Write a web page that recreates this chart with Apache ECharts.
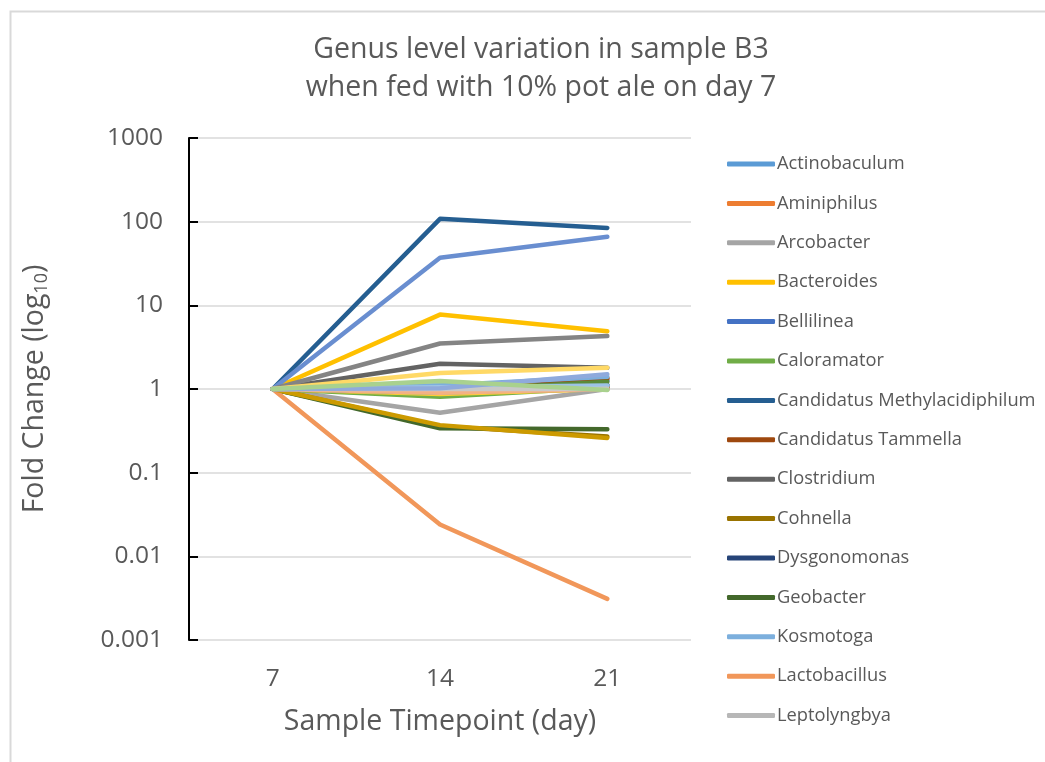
<!DOCTYPE html>
<html>
<head>
<meta charset="utf-8">
<script src="https://cdn.jsdelivr.net/npm/echarts@6/dist/echarts.min.js"></script>
<style>html,body{margin:0;padding:0;background:#fff;}#c{width:1045px;height:762px;}</style>
</head>
<body>
<div id="c"></div>
<script>
const categories = ['7', '14', '21'];
const yTickLabels = ['0.001', '0.01', '0.1', '1', '10', '100', '1000'];
const legendNames = ['Actinobaculum','Aminiphilus','Arcobacter','Bacteroides','Bellilinea','Caloramator',
  'Candidatus Methylacidiphilum','Candidatus Tammella','Clostridium','Cohnella','Dysgonomonas','Geobacter',
  'Kosmotoga','Lactobacillus','Leptolyngbya'];
// series beyond the visible (truncated) legend
const hiddenNames = ['Genus 16','Genus 17','Genus 18','Genus 19','Genus 20','Genus 21','Genus 22',
  'Genus 23','Genus 24','Genus 25','Genus 26','Genus 27','Genus 28','Genus 29','Genus 30'];
const seriesValues = [
  [1, 1.10, 1.30],   // Actinobaculum
  [1, 0.92, 1.34],   // Aminiphilus
  [1, 0.52, 1.00],   // Arcobacter
  [1, 7.75, 4.90],   // Bacteroides
  [1, 1.05, 1.25],   // Bellilinea
  [1, 0.81, 1.04],   // Caloramator
  [1, 108, 84],      // Candidatus Methylacidiphilum
  [1, 0.90, 1.35],   // Candidatus Tammella
  [1, 2.00, 1.80],   // Clostridium
  [1, 0.36, 0.27],   // Cohnella
  [1, 1.00, 1.12],   // Dysgonomonas
  [1, 0.34, 0.33],   // Geobacter
  [1, 1.10, 1.40],   // Kosmotoga
  [1, 0.024, 0.0031],// Lactobacillus
  [1, 1.00, 1.02],   // Leptolyngbya
  [1, 0.87, 1.00],
  [1, 37, 66],
  [1, 0.90, 1.05],
  [1, 1.02, 1.10],
  [1, 0.95, 1.05],
  [1, 3.50, 4.30],
  [1, 0.37, 0.26],
  [1, 0.93, 1.00],
  [1, 0.95, 1.22],
  [1, 1.05, 1.10],
  [1, 0.90, 1.00],
  [1, 1.00, 1.00],
  [1, 1.55, 1.80],
  [1, 1.02, 1.50],
  [1, 1.25, 0.97]
];
const palette = ['#5B9BD5','#ED7D31','#A5A5A5','#FFC000','#4472C4','#70AD47',
  '#255E91','#9E480E','#636363','#997300','#264478','#43682B',
  '#7CAFDD','#F1975A','#B7B7B7','#FFCD33','#698ED0','#8CC168',
  '#327DC2','#D26012','#848484','#CC9A00','#3A5FA0','#5A8A39',
  '#9DC3E6','#F4B183','#C9C9C9','#FFD966','#8FAADC','#A9D18E'];

const allNames = legendNames.concat(hiddenNames);
const FONT = 'Open Sans';
const TXT = '#595959';

const series = seriesValues.map((vals, i) => ({
  name: allNames[i],
  type: 'line',
  data: vals,
  symbol: 'none',
  smooth: false,
  lineStyle: { width: 4.5, color: palette[i], cap: 'round', join: 'round' },
  itemStyle: { color: palette[i] },
  emphasis: { disabled: true }
}));

const chart = echarts.init(document.getElementById('c'), null, { renderer: 'canvas' });
chart.setOption({
  animation: false,
  backgroundColor: '#fff',
  color: palette,
  graphic: [{
    type: 'rect', left: 8, top: 9, silent: true,
    shape: { width: 1100, height: 800 },
    style: { fill: 'none', stroke: '#d9d9d9', lineWidth: 2 }
  }],
  title: {
    text: 'Genus level variation in sample B3\nwhen fed with 10% pot ale on day 7',
    left: 536, top: 26, textAlign: 'center',
    textStyle: { fontFamily: FONT, fontSize: 28.5, fontWeight: 'normal', color: TXT, lineHeight: 38 }
  },
  legend: {
    orient: 'vertical', left: 722, top: 149,
    data: legendNames.map(n => ({ name: n, icon: 'roundRect' })),
    itemWidth: 48, itemHeight: 5, itemGap: 19.4,
    textStyle: { fontFamily: FONT, fontSize: 18.3, color: TXT, lineHeight: 20, padding: [0, 0, 0, -3] },
    selectedMode: false
  },
  grid: { left: 189, right: 354, top: 138, bottom: 122, containLabel: false },
  xAxis: {
    type: 'category', data: categories, boundaryGap: true,
    axisLine: { show: false }, axisTick: { show: false },
    axisLabel: { fontFamily: FONT, fontSize: 24.5, color: TXT, margin: 27 },
    name: 'Sample Timepoint (day)', nameLocation: 'middle', nameGap: 67,
    nameTextStyle: { fontFamily: FONT, fontSize: 28.5, color: TXT }
  },
  yAxis: {
    type: 'log', logBase: 10, min: 0.001, max: 1000,
    axisLine: { show: true, lineStyle: { color: '#000', width: 2 } },
    axisTick: { show: true, inside: true, length: 9, lineStyle: { color: '#000', width: 2 } },
    splitLine: { show: true, lineStyle: { color: '#d9d9d9', width: 1.5 } },
    axisLabel: {
      fontFamily: FONT, fontSize: 24.5, color: TXT, margin: 26,
      formatter: v => yTickLabels[Math.round(Math.log10(v)) + 3]
    },
    name: 'Fold Change (log{sub|10})', nameLocation: 'middle', nameGap: 138, nameRotate: 90,
    nameTextStyle: {
      fontFamily: FONT, fontSize: 28.5, color: TXT,
      rich: { sub: { fontFamily: FONT, fontSize: 18, color: TXT, verticalAlign: 'bottom', padding: [14, 0, 0, 0] } }
    }
  },
  series: series
});
</script>
</body>
</html>
